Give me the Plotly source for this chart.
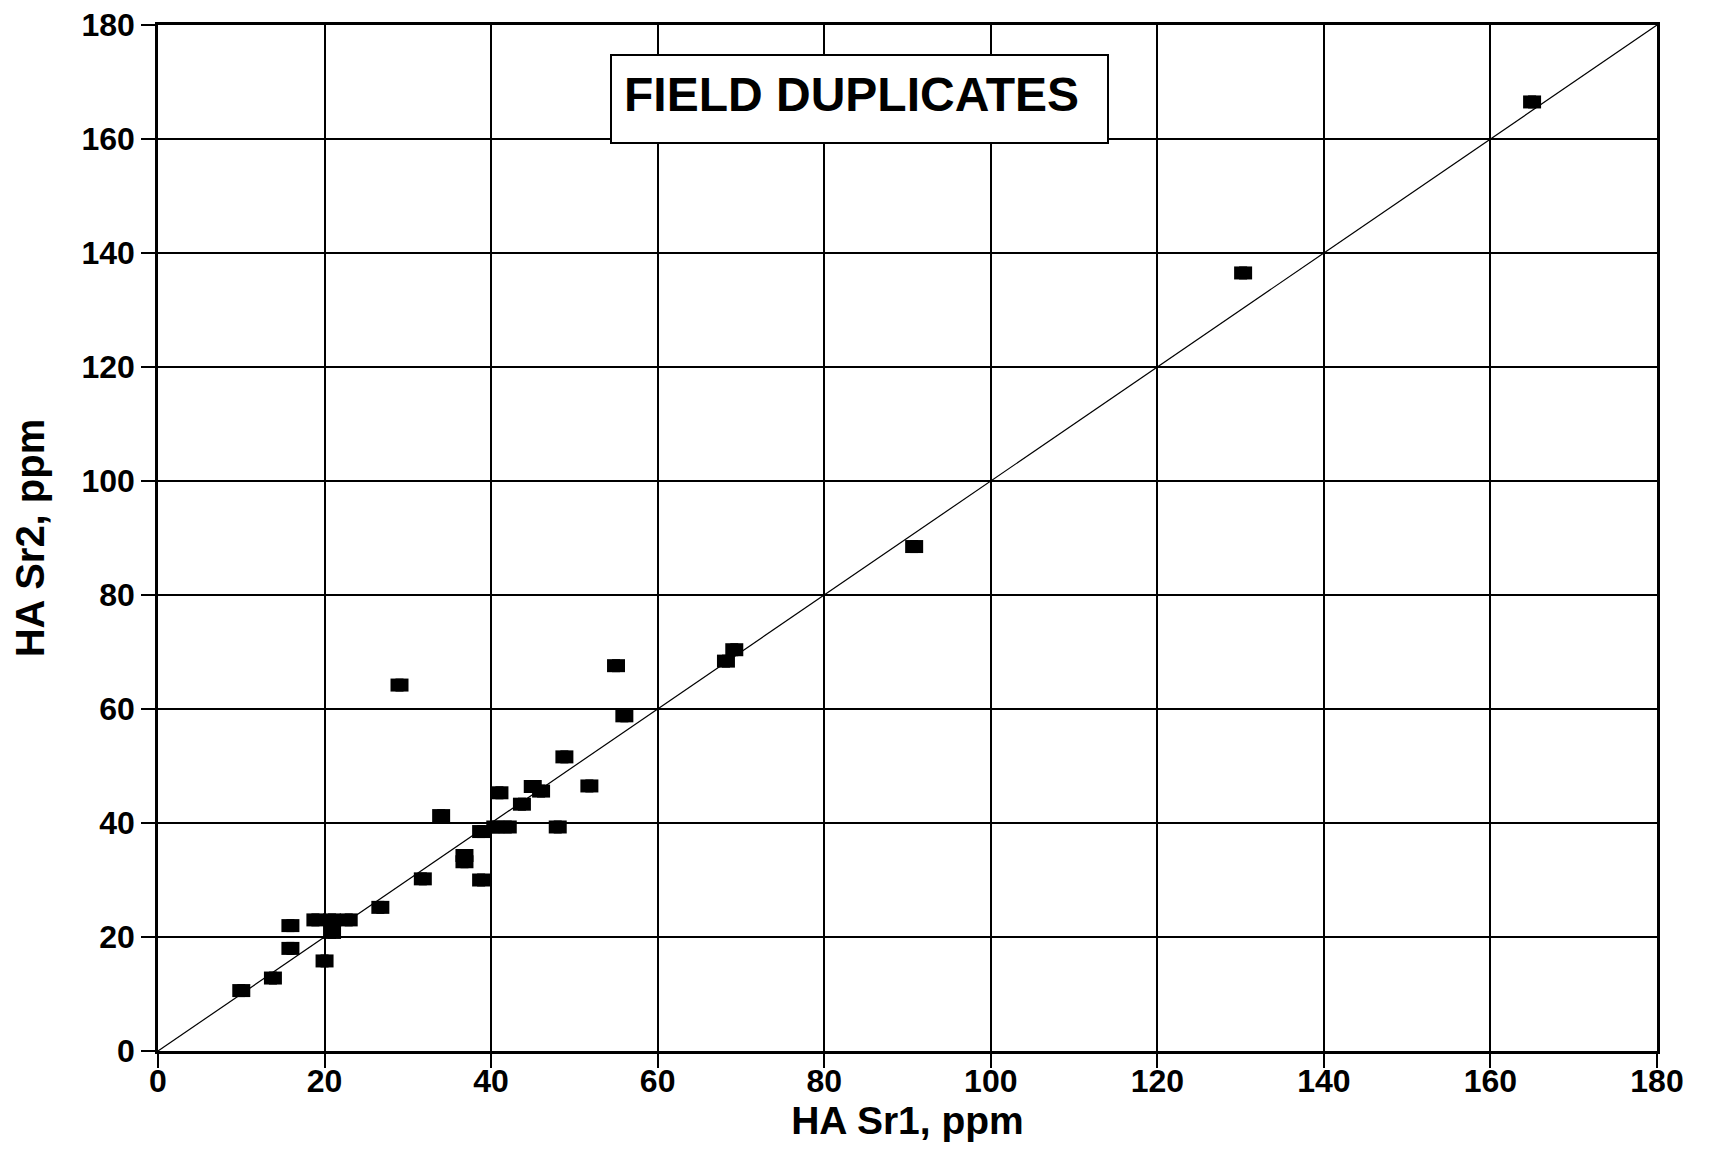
import plotly.graph_objects as go

# Field duplicate pairs (HA Sr1 vs HA Sr2, ppm)
sr1 = [10, 13.8, 15.9, 15.9, 20, 18.9, 20.9, 22.9, 20.9, 26.7, 29, 31.8, 34,
       36.8, 36.8, 38.8, 38.8, 40.5, 42, 41, 43.7, 45, 46, 48, 48.8, 51.8,
       55, 56, 68.2, 69.2, 90.8, 130.3, 165]
sr2 = [10.6, 12.8, 18, 22, 15.8, 23, 23, 23, 20.8, 25.2, 64.2, 30.2, 41.3,
       34.3, 33.2, 38.5, 30, 39.3, 39.3, 45.3, 43.3, 46.4, 45.6, 39.3, 51.6,
       46.5, 67.6, 58.8, 68.4, 70.4, 88.5, 136.5, 166.5]

# 1:1 reference line
ref_x = [0, 180]
ref_y = [0, 180]

tick_vals = [0, 20, 40, 60, 80, 100, 120, 140, 160, 180]
tick_text = [str(v) for v in tick_vals]

title_text = "FIELD DUPLICATES"
x_title = "HA Sr1, ppm"
y_title = "HA Sr2, ppm"

FONT = "Liberation Sans, Arial, Helvetica, sans-serif"
X_RANGE = [0, 180]
Y_RANGE = [0, 180]
# rectangular markers are built from two squares nudged sideways (style only)
NUDGE = 0.3

fig = go.Figure()
fig.add_trace(go.Scatter(
    x=ref_x, y=ref_y, mode="lines",
    line=dict(color="black", width=1.2),
    hoverinfo="skip", showlegend=False,
))
for ax in ("x2", "x3"):
    fig.add_trace(go.Scatter(
        x=sr1, y=sr2, mode="markers", xaxis=ax, yaxis="y",
        marker=dict(symbol="square", size=13, color="black",
                    line=dict(width=0)),
        showlegend=False, cliponaxis=False,
    ))

axis_common = dict(
    tickvals=tick_vals, ticktext=tick_text,
    showgrid=True, gridcolor="black", gridwidth=1.5,
    showline=True, linecolor="black", linewidth=2.5, mirror=True,
    ticks="outside", ticklen=14, tickwidth=2, tickcolor="black",
    tickfont=dict(family=FONT, size=32, color="black", weight="bold"),
    ticklabeloverflow="allow", automargin=False,
    zeroline=False, fixedrange=True,
)

fig.update_layout(
    width=1712, height=1157,
    paper_bgcolor="white", plot_bgcolor="white",
    margin=dict(l=150, r=63, t=17, b=114, autoexpand=False),
    showlegend=False,
    xaxis=dict(**axis_common, range=X_RANGE, ticklabelstandoff=-14,
               title=dict(text=x_title, standoff=6,
                          font=dict(family=FONT, size=39, color="black", weight="bold"))),
    yaxis=dict(**axis_common, range=Y_RANGE,
               title=dict(text=y_title, standoff=30,
                          font=dict(family=FONT, size=40, color="black", weight="bold"))),
    xaxis2=dict(overlaying="x", range=[X_RANGE[0] + NUDGE, X_RANGE[1] + NUDGE],
                visible=False, fixedrange=True),
    xaxis3=dict(overlaying="x", range=[X_RANGE[0] - NUDGE, X_RANGE[1] - NUDGE],
                visible=False, fixedrange=True),
    annotations=[dict(
        text=title_text, xref="paper", yref="paper",
        x=0.4677, y=0.928, xanchor="center", yanchor="middle",
        showarrow=False, align="left", valign="top", width=471, height=62,
        borderpad=12, borderwidth=2, bordercolor="black", bgcolor="white",
        font=dict(family=FONT, size=48, color="black", weight="bold"),
    )],
)

fig.write_html("out.html")
